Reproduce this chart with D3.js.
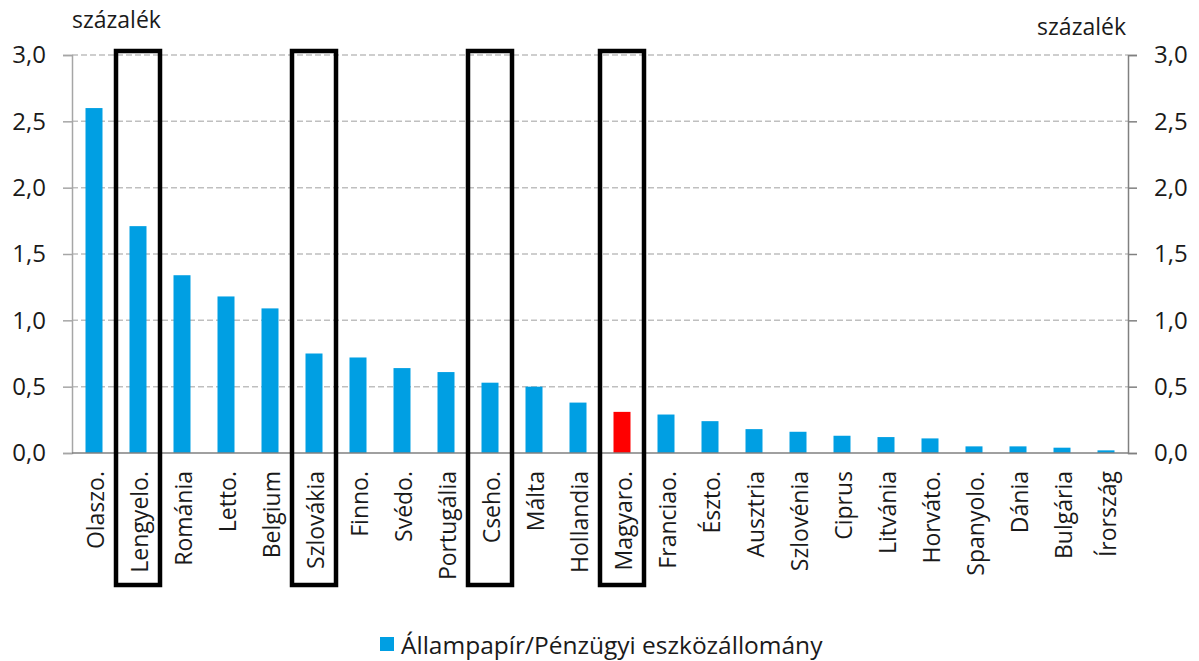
<!DOCTYPE html>
<html lang="hu">
<head>
<meta charset="UTF-8">
<title>Állampapír/Pénzügyi eszközállomány</title>
<style>
  html, body { margin: 0; padding: 0; background: #fff; }
  text { font-family: "Open Sans", "Noto Sans", sans-serif; fill: #1a1a1a; }
</style>
</head>
<body>
<div id="chart"></div>
<script src="https://d3js.org/d3.v7.min.js"></script>
<script>
// data
const countries = ["Olaszo.", "Lengyelo.", "Románia", "Letto.", "Belgium", "Szlovákia", "Finno.", "Svédo.",
  "Portugália", "Cseho.", "Málta", "Hollandia", "Magyaro.", "Franciao.", "Észto.", "Ausztria",
  "Szlovénia", "Ciprus", "Litvánia", "Horváto.", "Spanyolo.", "Dánia", "Bulgária", "Írország"];
const values = [2.60, 1.71, 1.34, 1.18, 1.09, 0.75, 0.72, 0.64, 0.61, 0.53, 0.50, 0.38,
  0.31, 0.29, 0.24, 0.18, 0.16, 0.13, 0.12, 0.11, 0.05, 0.05, 0.04, 0.02];
const highlighted = ["Lengyelo.", "Szlovákia", "Cseho.", "Magyaro."];
const yTicks = [0, 0.5, 1, 1.5, 2, 2.5, 3];
const unitLabel = "százalék";
const legendLabel = "Állampapír/Pénzügyi eszközállomány";

const W = 1199, H = 661;
const margin = { top: 55, right: 71, bottom: 208, left: 72 };
const width = W - margin.left - margin.right;
const height = H - margin.top - margin.bottom;

const svg = d3.select("#chart").append("svg")
  .attr("width", W).attr("height", H);
const g = svg.append("g").attr("transform", `translate(${margin.left},${margin.top})`);

const x = d3.scaleBand().domain(countries).range([0, width]).paddingInner(0).paddingOuter(0);
const y = d3.scaleLinear().domain([0, 3]).range([height, 0]);
const barW = 17;

// gridlines
g.append("g")
  .selectAll("line")
  .data(yTicks.filter(d => d > 0))
  .join("line")
    .attr("x1", 0).attr("x2", width)
    .attr("y1", d => y(d)).attr("y2", d => y(d))
    .attr("stroke", "#bfbfbf").attr("stroke-width", 1.5)
    .attr("stroke-dasharray", "6,3");

// bars
g.append("g")
  .selectAll("rect")
  .data(countries.map((c, i) => ({ c, v: values[i] })))
  .join("rect")
    .attr("x", d => x(d.c) + x.bandwidth() / 2 - barW / 2)
    .attr("width", barW)
    .attr("y", d => y(d.v))
    .attr("height", d => y(0) - y(d.v))
    .attr("fill", d => d.c === "Magyaro." ? "#ff0000" : "#009fe3");

// axes
const fmt = d => d.toFixed(1).replace(".", ",");
const leftAxis = g.append("g")
  .call(d3.axisLeft(y).tickValues(yTicks).tickFormat(fmt).tickSizeOuter(0).tickSize(9).tickPadding(17));
const rightAxis = g.append("g")
  .attr("transform", `translate(${width},0)`)
  .call(d3.axisRight(y).tickValues(yTicks).tickFormat(fmt).tickSizeOuter(0).tickSize(9).tickPadding(17));
[leftAxis, rightAxis].forEach(a => {
  a.select(".domain").attr("stroke", "#a6a6a6").attr("stroke-width", 1.5);
  a.selectAll(".tick line").attr("stroke", "#a6a6a6").attr("stroke-width", 1.5);
  a.selectAll("text").style("font-size", "24px").attr("fill", "#1a1a1a");
});
rightAxis.select(".domain").attr("stroke", "#808080");
rightAxis.selectAll(".tick line").attr("stroke", "#808080");

// zero baseline
g.append("line")
  .attr("x1", 0).attr("x2", width)
  .attr("y1", y(0)).attr("y2", y(0))
  .attr("stroke", "#808080").attr("stroke-width", 1.5);

// category labels
const xAxis = g.append("g")
  .attr("transform", `translate(0,${height})`)
  .call(d3.axisBottom(x).tickSize(0).tickPadding(0));
xAxis.select(".domain").remove();
xAxis.selectAll("text")
  .style("font-size", "23px")
  .attr("fill", "#1a1a1a")
  .attr("text-anchor", "end")
  .attr("dy", "0.35em")
  .attr("transform", "translate(2,18) rotate(-90)");

// highlight boxes
g.append("g")
  .selectAll("rect")
  .data(highlighted)
  .join("rect")
    .attr("x", d => x(d))
    .attr("width", x.bandwidth())
    .attr("y", -4)
    .attr("height", 534)
    .attr("fill", "none")
    .attr("stroke", "#000")
    .attr("stroke-width", 4.5);

// unit labels
svg.append("text").attr("x", 72).attr("y", 28).style("font-size", "23px").text(unitLabel);
svg.append("text").attr("x", 1126).attr("y", 35).attr("text-anchor", "end").style("font-size", "23px").text(unitLabel);

// legend
const leg = svg.append("g").attr("transform", "translate(380,637)");
leg.append("rect").attr("width", 14).attr("height", 14).attr("fill", "#009fe3");
leg.append("text").attr("x", 21).attr("y", 17).style("font-size", "24.5px").text(legendLabel);
</script>
</body>
</html>
